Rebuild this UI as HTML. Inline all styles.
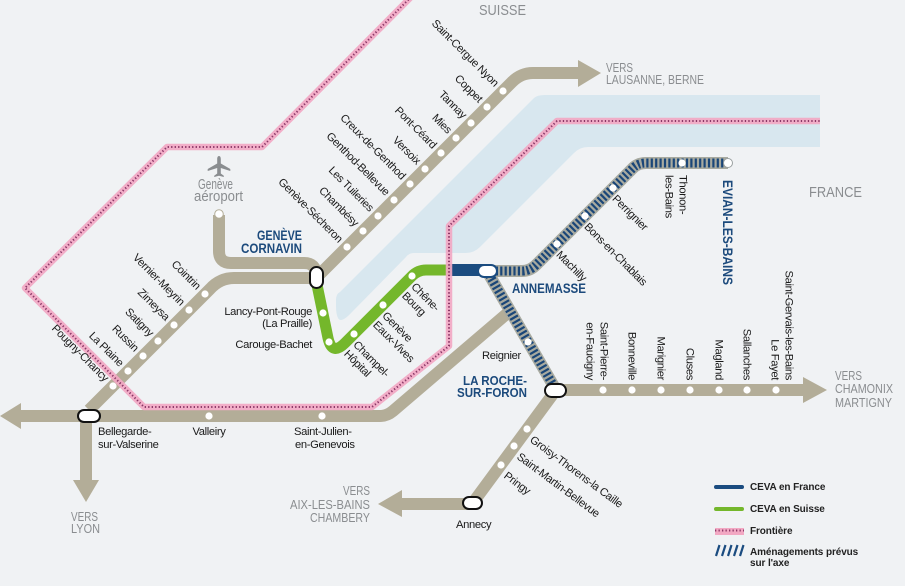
<!DOCTYPE html>
<html><head><meta charset="utf-8"><style>
html,body{margin:0;padding:0;background:#f0f2f4;}
svg{display:block;}
text{font-family:"Liberation Sans",Arial,sans-serif;}
.st{font-size:11.2px;fill:#1a1a1a;letter-spacing:-0.35px;}
.gr{fill:#8a8d90;}
.nv{fill:#1c4a7c;font-weight:bold;}
.lg{font-size:10px;font-weight:bold;fill:#222;letter-spacing:-0.1px;}
</style></head><body>
<svg width="905" height="586" viewBox="0 0 905 586" xmlns="http://www.w3.org/2000/svg">
<rect width="905" height="586" fill="#f0f2f4"/>
<!-- lake -->
<path d="M545 95 L820 95 L820 147 L588 147 Q580 147 574 153 L480 247 Q474 253 466 253 L414 253 Q409 253 406 257 L352 312 Q341 324 338 318 Q336 314 336 306 L336 300 Q336 294 340 292 L534 98 Q537 95 545 95 Z" fill="#d8e7ef"/>

<!-- tan lines -->
<g fill="none" stroke="#b3ad98" stroke-width="12" stroke-linejoin="round">
<path d="M18 416 L380 416 Q387 416 393 411 L510 311"/>
<path d="M86 416 L86 482"/>
<path d="M89 410 L210 289 Q220 278 234 278 L316 278"/>
<path d="M219 215 L219 251 Q219 263 231 263 L304 263 Q316 263 316 275"/>
<path d="M316 278 L512 82 Q521 73 533 73 L580 73"/>
<path d="M400 504 L472 504 L556 390 L805 390"/>
</g>
<g fill="#b3ad98">
<polygon points="0,416 21,403 21,429"/>
<polygon points="73,480 99,480 86,502"/>
<polygon points="578,60 578,87 601,73"/>
<polygon points="378,504 402,490 402,517"/>
<polygon points="803,377 803,403 827,390"/>
</g>

<!-- hatched -->
<g fill="none" stroke-linejoin="round">
<path d="M487 271 L556 390 M487 271 L522 271 Q530 271 536 265 L633 168 Q638 163 646 163 L728 163" stroke="#a8aaa0" stroke-width="12"/>
<path d="M487 271 L556 390 M487 271 L522 271 Q530 271 536 265 L633 168 Q638 163 646 163 L728 163" stroke="#1a4678" stroke-width="9" stroke-dasharray="2.2 2.2"/>
</g>

<!-- green and navy CEVA -->
<path d="M316 280 L328 338 Q332 356 345 343 L412 276 Q418 270 426 270 L449 270" fill="none" stroke="#74b72b" stroke-width="11" stroke-linejoin="round"/>
<path d="M449 270 L487 270" fill="none" stroke="#1b4c80" stroke-width="12"/>

<!-- border -->
<g fill="none" stroke-linejoin="round">
<path d="M411 -3 L262 147 L167 147 L25 288 L144 407 L372 407 L449 346 L449 226 L557 121 L820 121" stroke="#f2a8c3" stroke-width="6.5" opacity="0.92"/>
<path d="M411 -3 L262 147 L167 147 L25 288 L144 407 L372 407 L449 346 L449 226 L557 121 L820 121" stroke="#8b3867" stroke-width="2" stroke-dasharray="1.3 2.2"/>
</g>

<!-- dots -->
<g fill="#fff">
<circle cx="347" cy="247" r="3.6"/><circle cx="363" cy="231" r="3.6"/><circle cx="378" cy="216" r="3.6"/>
<circle cx="394" cy="200" r="3.6"/><circle cx="410" cy="184" r="3.6"/><circle cx="425" cy="169" r="3.6"/>
<circle cx="441" cy="153" r="3.6"/><circle cx="456" cy="138" r="3.6"/><circle cx="471" cy="123" r="3.6"/>
<circle cx="487" cy="107" r="3.6"/><circle cx="503" cy="91" r="3.6"/>
<circle cx="113" cy="386" r="3.6"/><circle cx="128" cy="371" r="3.6"/><circle cx="143" cy="356" r="3.6"/>
<circle cx="158" cy="341" r="3.6"/><circle cx="174" cy="325" r="3.6"/><circle cx="189" cy="310" r="3.6"/>
<circle cx="205" cy="294" r="3.6"/>
<circle cx="209" cy="416" r="3.6"/><circle cx="322" cy="416" r="3.6"/>
<circle cx="323" cy="313" r="3.6"/><circle cx="329" cy="342" r="3.6"/><circle cx="354" cy="334" r="3.6"/>
<circle cx="383" cy="305" r="3.6"/><circle cx="412" cy="276" r="3.6"/>
<circle cx="557" cy="244" r="3.6"/><circle cx="585" cy="216" r="3.6"/><circle cx="613" cy="188" r="3.6"/>
<circle cx="682" cy="163" r="3.6"/>
<circle cx="528" cy="342" r="3.6"/>
<circle cx="527" cy="429" r="3.6"/><circle cx="514" cy="446" r="3.6"/><circle cx="501" cy="465" r="3.6"/>
<circle cx="603" cy="390" r="3.6"/><circle cx="632" cy="390" r="3.6"/><circle cx="661" cy="390" r="3.6"/>
<circle cx="690" cy="390" r="3.6"/><circle cx="719" cy="390" r="3.6"/><circle cx="747" cy="390" r="3.6"/>
<circle cx="776" cy="390" r="3.6"/>
</g>
<circle cx="219" cy="214" r="4.3" fill="#fff" stroke="#b3ad98" stroke-width="1"/>
<circle cx="728" cy="163" r="4.5" fill="#fff" stroke="#9aa0a0" stroke-width="1"/>

<!-- nodes -->
<g fill="#fff" stroke="#111" stroke-width="2">
<rect x="310" y="267" width="13" height="21" rx="6.5"/>
<rect x="78" y="410" width="22" height="12" rx="6"/>
<rect x="545" y="384" width="21" height="13" rx="6.5"/>
<rect x="463" y="497" width="19" height="12" rx="6"/>
</g>
<rect x="478" y="265" width="19" height="12" rx="6" fill="#fff" stroke="#1b4c80" stroke-width="2"/>

<!-- airplane -->
<path d="M219 156 c1.3 0 1.8 1.5 1.8 3 v4.5 l9.5 5.5 v2 l-9.5 -3 v5.5 l3 2.2 v1.3 l-4.8 -1.3 l-4.8 1.3 v-1.3 l3 -2.2 v-5.5 l-9.5 3 v-2 l9.5 -5.5 v-4.5 c0 -1.5 0.5 -3 1.8 -3z" fill="#8a8d90"/>

<!-- grey labels -->
<g class="gr">
<text x="479" y="15" font-size="15" textLength="47" lengthAdjust="spacingAndGlyphs">SUISSE</text>
<text x="809" y="197" font-size="15" textLength="53" lengthAdjust="spacingAndGlyphs">FRANCE</text>
<text x="606" y="72" font-size="13" textLength="27" lengthAdjust="spacingAndGlyphs">VERS</text>
<text x="606" y="84" font-size="13" textLength="98" lengthAdjust="spacingAndGlyphs">LAUSANNE, BERNE</text>
<text x="198" y="189" font-size="14.5" textLength="35" lengthAdjust="spacingAndGlyphs">Genève</text>
<text x="194" y="201" font-size="14.5" textLength="49" lengthAdjust="spacingAndGlyphs">aéroport</text>
<text x="71" y="521" font-size="13" textLength="27" lengthAdjust="spacingAndGlyphs">VERS</text>
<text x="71" y="533" font-size="13" textLength="29" lengthAdjust="spacingAndGlyphs">LYON</text>
<text x="370" y="495" font-size="13" text-anchor="end" textLength="27" lengthAdjust="spacingAndGlyphs">VERS</text>
<text x="370" y="509" font-size="13" text-anchor="end" textLength="80" lengthAdjust="spacingAndGlyphs">AIX-LES-BAINS</text>
<text x="370" y="522" font-size="13" text-anchor="end" textLength="60" lengthAdjust="spacingAndGlyphs">CHAMBERY</text>
<text x="835" y="380" font-size="13" textLength="27" lengthAdjust="spacingAndGlyphs">VERS</text>
<text x="835" y="393" font-size="13" textLength="58" lengthAdjust="spacingAndGlyphs">CHAMONIX</text>
<text x="835" y="407" font-size="13" textLength="57" lengthAdjust="spacingAndGlyphs">MARTIGNY</text>
</g>

<!-- navy labels -->
<g class="nv">
<text x="302" y="240" font-size="13.5" text-anchor="end" textLength="45" lengthAdjust="spacingAndGlyphs">GENÈVE</text>
<text x="302" y="253" font-size="13.5" text-anchor="end" textLength="61" lengthAdjust="spacingAndGlyphs">CORNAVIN</text>
<text x="512" y="293" font-size="13.5" textLength="74" lengthAdjust="spacingAndGlyphs">ANNEMASSE</text>
<text x="527" y="385" font-size="13" text-anchor="end" textLength="64" lengthAdjust="spacingAndGlyphs">LA ROCHE-</text>
<text x="527" y="397" font-size="13" text-anchor="end" textLength="70" lengthAdjust="spacingAndGlyphs">SUR-FORON</text>
<text transform="translate(728 180) rotate(90)" x="0" y="5" font-size="14" textLength="105" lengthAdjust="spacingAndGlyphs">EVIAN-LES-BAINS</text>
</g>

<!-- station labels -->
<g class="st">
<text transform="translate(347 247) rotate(45)" x="-9" y="3.5" text-anchor="end">Genève-Sécheron</text>
<text transform="translate(363 231) rotate(45)" x="-9" y="3.5" text-anchor="end">Chambésy</text>
<text transform="translate(378 216) rotate(45)" x="-9" y="3.5" text-anchor="end">Les Tuileries</text>
<text transform="translate(394 200) rotate(45)" x="-9" y="3.5" text-anchor="end">Genthod-Bellevue</text>
<text transform="translate(410 184) rotate(45)" x="-9" y="3.5" text-anchor="end">Creux-de-Genthod</text>
<text transform="translate(425 169) rotate(45)" x="-9" y="3.5" text-anchor="end">Versoix</text>
<text transform="translate(441 153) rotate(45)" x="-9" y="3.5" text-anchor="end">Pont-Céard</text>
<text transform="translate(456 138) rotate(45)" x="-9" y="3.5" text-anchor="end">Mies</text>
<text transform="translate(471 123) rotate(45)" x="-9" y="3.5" text-anchor="end">Tannay</text>
<text transform="translate(487 107) rotate(45)" x="-9" y="3.5" text-anchor="end">Coppet</text>
<text transform="translate(503 91) rotate(45)" x="-9" y="3.5" text-anchor="end">Saint-Cergue Nyon</text>
<text transform="translate(113 386) rotate(45)" x="-9" y="3.5" text-anchor="end">Pougny-Chancy</text>
<text transform="translate(128 371) rotate(45)" x="-9" y="3.5" text-anchor="end">La Plaine</text>
<text transform="translate(143 356) rotate(45)" x="-9" y="3.5" text-anchor="end">Russin</text>
<text transform="translate(158 341) rotate(45)" x="-9" y="3.5" text-anchor="end">Satigny</text>
<text transform="translate(174 325) rotate(45)" x="-9" y="3.5" text-anchor="end">Zimeysa</text>
<text transform="translate(189 310) rotate(45)" x="-9" y="3.5" text-anchor="end">Vernier-Meyrin</text>
<text transform="translate(205 294) rotate(45)" x="-9" y="3.5" text-anchor="end">Cointrin</text>
<text transform="translate(412 276) rotate(45)"><tspan x="7" y="9">Chêne-</tspan><tspan x="7" y="22">Bourg</tspan></text>
<text transform="translate(383 305) rotate(45)"><tspan x="7" y="9">Genève</tspan><tspan x="7" y="22">Eaux-Vives</tspan></text>
<text transform="translate(354 334) rotate(45)"><tspan x="7" y="9">Champel-</tspan><tspan x="7" y="22">Hôpital</tspan></text>
<text transform="translate(557 244) rotate(45)" x="7" y="9">Machilly</text>
<text transform="translate(585 216) rotate(45)" x="7" y="9">Bons-en-Chablais</text>
<text transform="translate(613 188) rotate(45)" x="7" y="9">Perrignier</text>
<text transform="translate(683 175) rotate(90)"><tspan x="0" y="3.5">Thonon-</tspan><tspan x="0" y="17.5">les-Bains</tspan></text>
<text transform="translate(527 429) rotate(36.6)" x="9" y="8.5">Groisy-Thorens-la Caille</text>
<text transform="translate(514 446) rotate(36.6)" x="9" y="8.5">Saint-Martin-Bellevue</text>
<text transform="translate(501 465) rotate(36.6)" x="9" y="8.5">Pringy</text>
<text transform="translate(604 380) rotate(90)" text-anchor="end"><tspan x="0" y="3.5">Saint-Pierre-</tspan><tspan x="0" y="17.5">en-Faucigny</tspan></text>
<text transform="translate(632 380) rotate(90)" x="0" y="3.5" text-anchor="end">Bonneville</text>
<text transform="translate(661 380) rotate(90)" x="0" y="3.5" text-anchor="end">Marignier</text>
<text transform="translate(690 380) rotate(90)" x="0" y="3.5" text-anchor="end">Cluses</text>
<text transform="translate(719 380) rotate(90)" x="0" y="3.5" text-anchor="end">Magland</text>
<text transform="translate(747 380) rotate(90)" x="0" y="3.5" text-anchor="end">Sallanches</text>
<text transform="translate(789 380) rotate(90)" text-anchor="end"><tspan x="0" y="3.5">Saint-Gervais-les-Bains</tspan><tspan x="0" y="17.5">Le Fayet</tspan></text>
<text x="98" y="435">Bellegarde-</text>
<text x="98" y="448">sur-Valserine</text>
<text x="209" y="435" text-anchor="middle">Valleiry</text>
<text x="294" y="435">Saint-Julien-</text>
<text x="295" y="448">en-Genevois</text>
<text x="312" y="315" text-anchor="end">Lancy-Pont-Rouge</text>
<text x="312" y="327" text-anchor="end">(La Praille)</text>
<text x="312" y="348" text-anchor="end">Carouge-Bachet</text>
<text x="482" y="359">Reignier</text>
<text x="456" y="528">Annecy</text>
</g>

<!-- legend -->
<g stroke-linecap="round">
<line x1="716" y1="487" x2="742" y2="487" stroke="#1b4c80" stroke-width="4"/>
<line x1="716" y1="509" x2="742" y2="509" stroke="#74b72b" stroke-width="4"/>
</g>
<rect x="715" y="528" width="29" height="7" fill="#f2a8c3"/>
<line x1="715" y1="530.5" x2="744" y2="530.5" stroke="#8b3867" stroke-width="2" stroke-dasharray="1.3 2.2"/>
<g stroke="#1b4c80" stroke-width="2.2">
<line x1="716" y1="556" x2="719.5" y2="545"/>
<line x1="722" y1="556" x2="725.5" y2="545"/>
<line x1="728" y1="556" x2="731.5" y2="545"/>
<line x1="734" y1="556" x2="737.5" y2="545"/>
<line x1="740" y1="556" x2="743.5" y2="545"/>
</g>
<g class="lg">
<text x="750" y="490">CEVA en France</text>
<text x="750" y="512">CEVA en Suisse</text>
<text x="750" y="534">Frontière</text>
<text x="750" y="555">Aménagements prévus</text>
<text x="750" y="566">sur l'axe</text>
</g>
</svg>
</body></html>
